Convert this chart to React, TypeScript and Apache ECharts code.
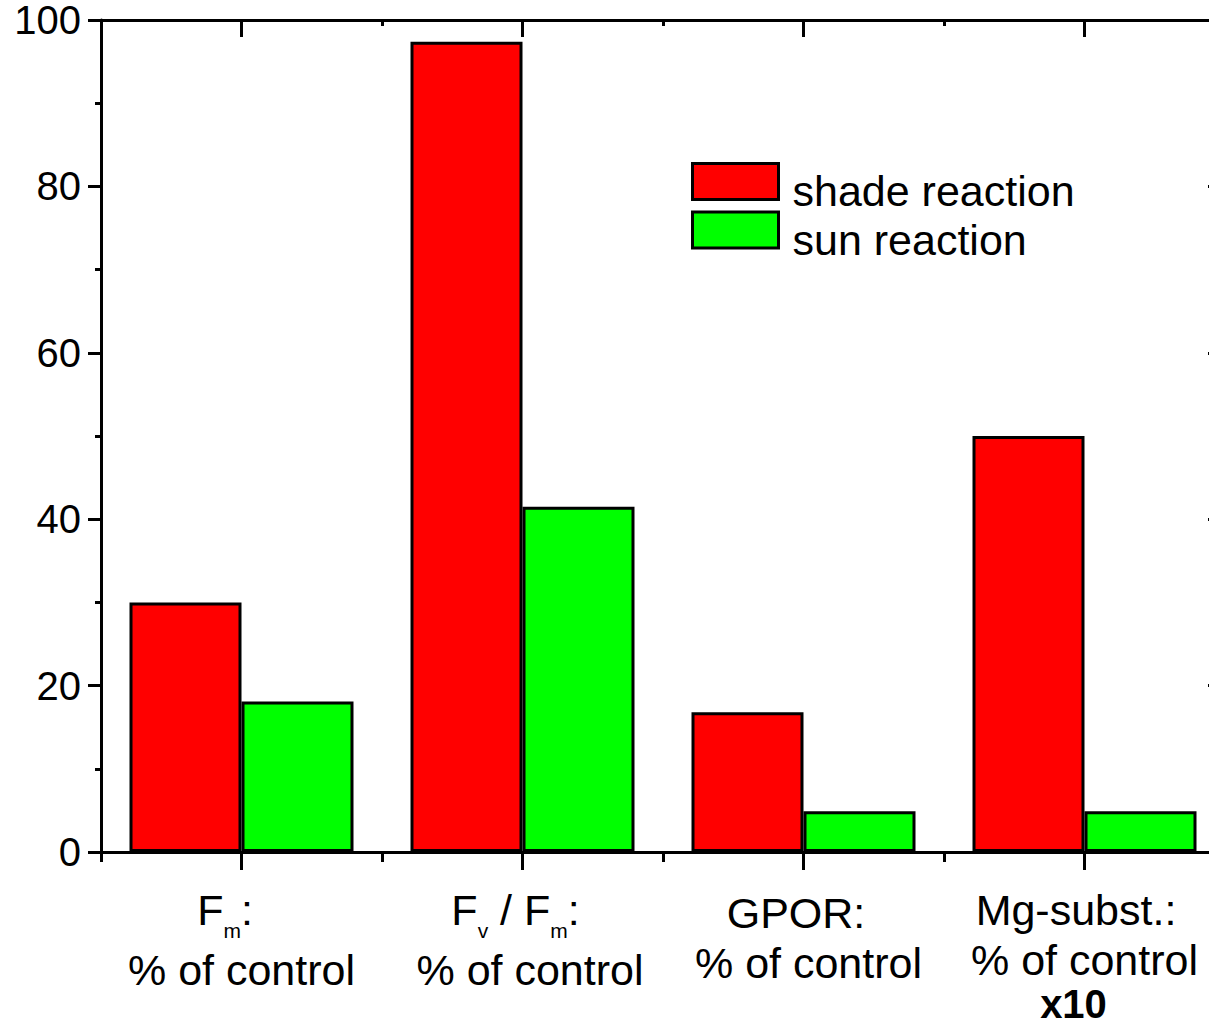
import React, { useEffect, useRef } from 'react';
import * as echarts from 'echarts';

const categories = ['Fm', 'Fv/Fm', 'GPOR', 'Mg-subst.'];
const categoryLabels = [
  '{a|F}{sub|m}{p33|:}\n{a|% of control}',
  '{a|F}{sub|v}{a| / F}{sub|m}{p14|:}\n{l15|% of control}',
  '{g15|GPOR:}\n{l10|% of control}',
  '{p17|Mg-subst.:}\n{a46|% of control}\n{b|x10}',
];
const seriesNames = ['shade reaction', 'sun reaction'];
const shadeReaction = [30, 97.4, 16.8, 50];
const sunReaction = [18.1, 41.5, 4.9, 4.9];
const yMin = 0;
const yMax = 100;
const yInterval = 20;

const FONT = "'Liberation Sans', Arial, sans-serif";

export default function App() {
  const ref = useRef<HTMLDivElement>(null);
  useEffect(() => {
    if (!ref.current) return;
    const chart = echarts.init(ref.current, undefined, { renderer: 'svg' });
    const base = {
      fontSize: 43,
      lineHeight: 50,
      verticalAlign: 'top',
      color: '#000',
      fontFamily: FONT,
    };
    const rich: any = {
      a: { ...base },
      a46: { ...base, lineHeight: 46 },
      sub: { ...base, fontSize: 21, lineHeight: 60, padding: [32, 0, 0, 0] },
      p33: { ...base, padding: [0, 33, 0, 0] },
      p14: { ...base, padding: [0, 14, 0, 0] },
      g15: { ...base, lineHeight: 53, padding: [3, 15, 0, 0] },
      p17: { ...base, padding: [0, 17, 0, 0] },
      l15: { ...base, padding: [0, 0, 0, 15] },
      l10: { ...base, padding: [0, 0, 0, 10] },
      b: { ...base, fontSize: 40, lineHeight: 40, fontWeight: 'bold', padding: [0, 22, 0, 0] },
    };
    const line = { lineStyle: { color: '#000', width: 3 } };
    const option: any = {
      animation: false,
      backgroundColor: '#fff',
      textStyle: { fontFamily: FONT },
      grid: { left: 101, right: 15, top: 20, bottom: 172 },
      legend: {
        data: seriesNames,
        orient: 'vertical',
        left: 691,
        top: 162,
        itemWidth: 86,
        itemHeight: 36,
        itemGap: -2,
        icon: 'rect',
        padding: 0,
        itemStyle: { borderColor: '#000', borderWidth: 3 },
        formatter: (name: string) => '{t|' + name + '}',
        textStyle: {
          color: '#000',
          fontFamily: FONT,
          rich: {
            t: {
              fontSize: 43,
              lineHeight: 36,
              verticalAlign: 'top',
              padding: [6, 0, 0, 9],
              color: '#000',
              fontFamily: FONT,
            },
          },
        },
      },
      xAxis: [
        {
          type: 'category',
          position: 'bottom',
          data: categories,
          boundaryGap: true,
          axisLine: { show: true, ...line },
          axisTick: { show: true, length: 10, inside: false, ...line },
          axisLabel: {
            interval: 0,
            margin: 36,
            formatter: (_v: string, i: number) => categoryLabels[i],
            rich,
          },
          splitLine: { show: false },
        },
        {
          type: 'category',
          position: 'bottom',
          data: categories,
          boundaryGap: true,
          axisLine: { show: false },
          axisTick: { show: true, alignWithLabel: true, length: 18, inside: false, ...line },
          axisLabel: { show: false },
          splitLine: { show: false },
        },
        {
          type: 'category',
          position: 'top',
          data: categories,
          boundaryGap: true,
          axisLine: { show: true, ...line },
          axisTick: { show: true, length: 6, inside: true, ...line },
          axisLabel: { show: false },
          splitLine: { show: false },
        },
        {
          type: 'category',
          position: 'top',
          data: categories,
          boundaryGap: true,
          axisLine: { show: false },
          axisTick: { show: true, alignWithLabel: true, length: 17, inside: true, ...line },
          axisLabel: { show: false },
          splitLine: { show: false },
        },
      ],
      yAxis: [
        {
          type: 'value',
          position: 'left',
          min: yMin,
          max: yMax,
          interval: yInterval,
          axisLine: { show: true, ...line },
          axisTick: { show: true, length: 13, inside: false, ...line },
          minorTick: { show: true, splitNumber: 2, length: 6, ...line },
          splitLine: { show: false },
          minorSplitLine: { show: false },
          axisLabel: { fontSize: 40, color: '#000', margin: 20, fontFamily: FONT },
        },
        {
          type: 'value',
          position: 'right',
          min: yMin,
          max: yMax,
          interval: yInterval,
          axisLine: { show: true, ...line },
          axisTick: { show: true, length: 17, inside: true, ...line },
          splitLine: { show: false },
          axisLabel: { show: false },
        },
      ],
      series: [
        {
          name: seriesNames[0],
          type: 'bar',
          xAxisIndex: 0,
          yAxisIndex: 0,
          data: shadeReaction,
          barWidth: 112,
          barGap: '0%',
          itemStyle: { color: '#ff0000', borderColor: '#000', borderWidth: 3 },
        },
        {
          name: seriesNames[1],
          type: 'bar',
          xAxisIndex: 0,
          yAxisIndex: 0,
          data: sunReaction,
          barWidth: 112,
          barGap: '0%',
          itemStyle: { color: '#00ff00', borderColor: '#000', borderWidth: 3 },
        },
      ],
    };
    chart.setOption(option);
    return () => chart.dispose();
  }, []);
  return (
    <div
      style={{
        position: 'fixed',
        left: 0,
        top: 0,
        width: 1209,
        height: 1024,
        overflow: 'hidden',
        background: '#fff',
      }}
    >
      <div ref={ref} style={{ width: 1240, height: 1024 }} />
    </div>
  );
}
